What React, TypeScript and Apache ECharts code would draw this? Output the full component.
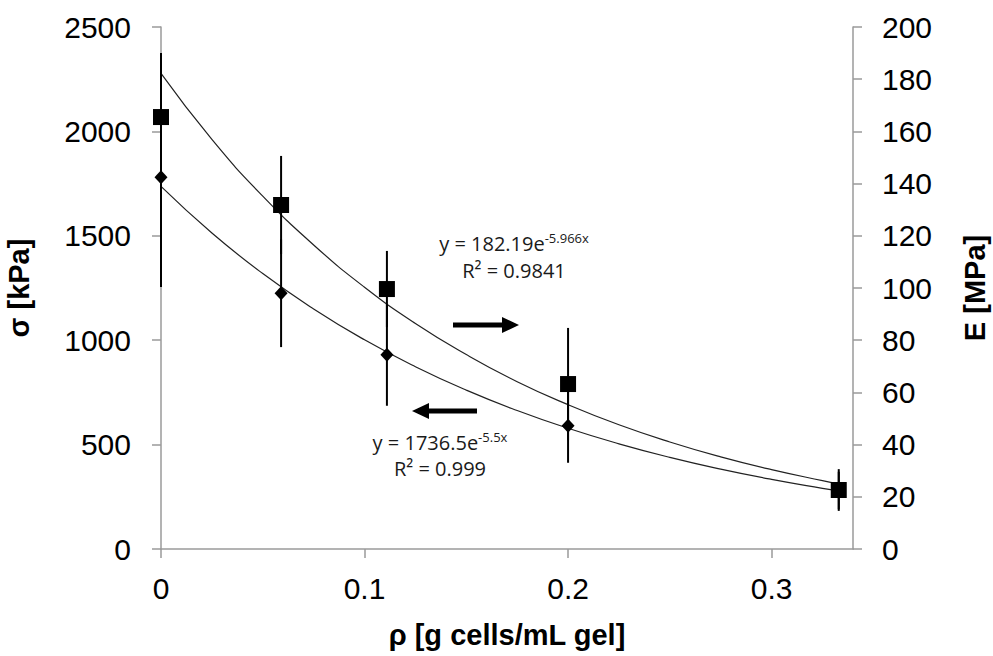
import React, { useEffect, useRef } from 'react';
import * as echarts from 'echarts';

// Measured points (x = cell density)
const rho = [0, 0.059, 0.111, 0.2, 0.333];
// Left axis: strength σ [kPa] (diamonds)
const sigma = [1780, 1225, 930, 590, 280];
const sigmaErr = [525, 258, 244, 177, 90];
// Right axis: modulus E [MPa] (squares)
const modulus = [165.5, 131.8, 99.6, 63.2, 22.6];
const modulusErr = [24.5, 18.8, 14.6, 21.5, 8];

// Trendline values
const fitX = [0, 0.025, 0.05, 0.075, 0.1, 0.125, 0.15, 0.175, 0.2, 0.225, 0.25, 0.275, 0.3, 0.325, 0.333];
const sigmaFit = [1736.5, 1513.4, 1319.0, 1149.6, 1001.8, 873.1, 760.9, 663.4, 578.1, 503.8, 439.0, 382.7, 333.4, 290.6, 278.2];
const modulusFit = [182.2, 156.9, 135.2, 116.5, 100.3, 86.4, 74.5, 64.1, 55.3, 47.6, 41.0, 35.3, 30.4, 26.2, 25.0];

const xTicks = [0, 0.1, 0.2, 0.3];

const FONT = '"Liberation Sans", Arial, sans-serif';
const EQ_FONT = '"Open Sans", "Noto Sans", sans-serif';

export default function App() {
  const ref = useRef<HTMLDivElement>(null);

  useEffect(() => {
    if (!ref.current) return;
    const chart = echarts.init(ref.current, null, { renderer: 'svg' });

    const axisLine = { show: true, onZero: false, lineStyle: { color: '#9a9a9a', width: 1.5 } };
    const axisTick = { show: true, inside: false, length: 9, lineStyle: { color: '#9a9a9a', width: 1.5 } };
    const labelStyle = { color: '#000', fontSize: 30, fontFamily: FONT, formatter: (v: number) => String(v) };
    const nameStyle = { color: '#000', fontSize: 29, fontWeight: 'bold' as const, fontFamily: FONT };

    const errRender = (params: any, api: any) => {
      const lo = api.coord([api.value(0), api.value(1)]);
      const hi = api.coord([api.value(0), api.value(2)]);
      return {
        type: 'line',
        shape: { x1: lo[0], y1: lo[1], x2: hi[0], y2: hi[1] },
        style: { stroke: '#000', lineWidth: 2 },
      };
    };

    const eqRich = {
      m: { fontSize: 20, fontFamily: EQ_FONT, fill: '#1a1a1a', lineHeight: 24 },
      s: { fontSize: 13, fontFamily: EQ_FONT, fill: '#1a1a1a', verticalAlign: 'top', lineHeight: 24 },
    };

    chart.setOption({
      animation: false,
      backgroundColor: '#fff',
      grid: { left: 161, right: 140, top: 27, bottom: 107, containLabel: false, outerBoundsMode: 'none' },
      xAxis: {
        type: 'value',
        min: 0,
        max: 0.34,
        interval: 0.1,
        name: 'ρ [g cells/mL gel]',
        nameLocation: 'middle',
        nameGap: 71,
        nameTextStyle: nameStyle,
        axisLine,
        axisTick: { ...axisTick, customValues: xTicks },
        axisLabel: { ...labelStyle, margin: 24, customValues: xTicks },
        splitLine: { show: false },
      },
      yAxis: [
        {
          type: 'value',
          position: 'left',
          min: 0,
          max: 2500,
          interval: 500,
          name: 'σ [kPa]',
          nameLocation: 'middle',
          nameRotate: 90,
          nameGap: 128,
          nameTextStyle: nameStyle,
          axisLine,
          axisTick,
          axisLabel: { ...labelStyle, margin: 30 },
          splitLine: { show: false },
        },
        {
          type: 'value',
          position: 'right',
          min: 0,
          max: 200,
          interval: 20,
          name: 'E [MPa]',
          nameLocation: 'middle',
          nameRotate: 90,
          nameGap: 107,
          nameTextStyle: nameStyle,
          axisLine,
          axisTick,
          axisLabel: { ...labelStyle, margin: 29 },
          splitLine: { show: false },
        },
      ],
      series: [
        {
          name: 'σ fit',
          type: 'line',
          yAxisIndex: 0,
          data: fitX.map((x, i) => [x, sigmaFit[i]]),
          smooth: true,
          showSymbol: false,
          symbol: 'none',
          lineStyle: { color: '#222', width: 1.2 },
          z: 1,
        },
        {
          name: 'E fit',
          type: 'line',
          yAxisIndex: 1,
          data: fitX.map((x, i) => [x, modulusFit[i]]),
          smooth: true,
          showSymbol: false,
          symbol: 'none',
          lineStyle: { color: '#222', width: 1.2 },
          z: 1,
        },
        {
          name: 'σ error',
          type: 'custom',
          yAxisIndex: 0,
          data: rho.map((x, i) => [x, sigma[i] - sigmaErr[i], sigma[i] + sigmaErr[i]]),
          encode: { x: 0, y: [1, 2] },
          renderItem: errRender,
          z: 2,
        },
        {
          name: 'E error',
          type: 'custom',
          yAxisIndex: 1,
          data: rho.map((x, i) => [x, modulus[i] - modulusErr[i], modulus[i] + modulusErr[i]]),
          encode: { x: 0, y: [1, 2] },
          renderItem: errRender,
          z: 2,
        },
        {
          name: 'σ',
          type: 'scatter',
          yAxisIndex: 0,
          data: rho.map((x, i) => [x, sigma[i]]),
          symbol: 'diamond',
          symbolSize: [13, 14],
          itemStyle: { color: '#000', opacity: 1 },
          z: 3,
        },
        {
          name: 'E',
          type: 'scatter',
          yAxisIndex: 1,
          data: rho.map((x, i) => [x, modulus[i]]),
          symbol: 'rect',
          symbolSize: 16,
          itemStyle: { color: '#000', opacity: 1 },
          z: 4,
        },
      ],
      graphic: [
        {
          type: 'text',
          x: 514,
          y: 243,
          style: { text: '{m|y = 182.19e}{s|-5.966x}', rich: eqRich, align: 'center', verticalAlign: 'middle' },
        },
        {
          type: 'text',
          x: 514,
          y: 270,
          style: { text: 'R² = 0.9841', fontSize: 20, fontFamily: EQ_FONT, fill: '#1a1a1a', align: 'center', verticalAlign: 'middle' },
        },
        {
          type: 'text',
          x: 440,
          y: 442,
          style: { text: '{m|y = 1736.5e}{s|-5.5x}', rich: eqRich, align: 'center', verticalAlign: 'middle' },
        },
        {
          type: 'text',
          x: 440,
          y: 468,
          style: { text: 'R² = 0.999', fontSize: 20, fontFamily: EQ_FONT, fill: '#1a1a1a', align: 'center', verticalAlign: 'middle' },
        },
        {
          type: 'polygon',
          shape: { points: [[453, 322.5], [502, 322.5], [502, 317], [519, 325], [502, 333], [502, 327.5], [453, 327.5]] },
          style: { fill: '#000' },
        },
        {
          type: 'polygon',
          shape: { points: [[477, 408.5], [429, 408.5], [429, 403], [412, 411], [429, 419], [429, 413.5], [477, 413.5]] },
          style: { fill: '#000' },
        },
      ],
    });

    return () => chart.dispose();
  }, []);

  return <div ref={ref} style={{ width: 993, height: 656, position: 'fixed', left: 0, top: 0, background: '#fff' }} />;
}
